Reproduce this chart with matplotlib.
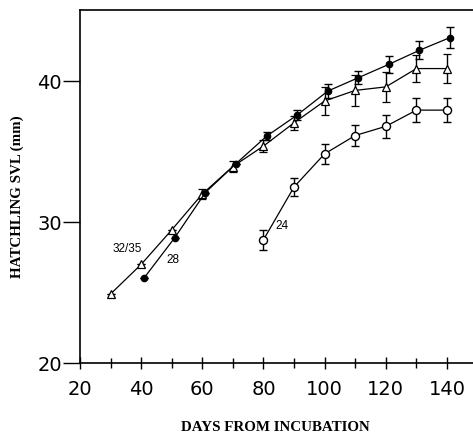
import matplotlib
matplotlib.use("Agg")
import matplotlib.pyplot as plt

# Data
days_tri = [30, 40, 50, 60, 70, 80, 90, 100, 110, 120, 130, 140]
svl_tri = [24.9, 27.0, 29.45, 32.0, 33.95, 35.4, 37.05, 38.6, 39.35, 39.6, 40.9, 40.9]
err_tri = [0, 0, 0, 0.35, 0.4, 0.4, 0.5, 1.0, 1.1, 1.05, 0.95, 1.0]

days_fill = [41, 51, 61, 71, 81, 91, 101, 111, 121, 131, 141]
svl_fill = [26.05, 28.9, 32.1, 34.15, 36.1, 37.6, 39.3, 40.25, 41.2, 42.2, 43.1]
err_fill = [0, 0, 0, 0, 0.3, 0.35, 0.5, 0.47, 0.6, 0.65, 0.72]

days_open = [80, 90, 100, 110, 120, 130, 140]
svl_open = [28.75, 32.5, 34.85, 36.15, 36.8, 37.95, 37.95]
err_open = [0.72, 0.65, 0.7, 0.73, 0.8, 0.83, 0.86]

labels = ["32/35", "28", "24"]

fig = plt.figure(figsize=(4.73, 4.38), dpi=100)
ax = fig.add_axes([0.169, 0.171, 0.831, 0.806])

kw = dict(color="black", ecolor="black", elinewidth=1.0, capsize=3, capthick=1.0, lw=0.9)
ax.errorbar(days_tri, svl_tri, yerr=err_tri, marker="^", ms=5.5, mfc="white", mec="black", mew=0.9, zorder=3, **kw)
ax.errorbar(days_fill, svl_fill, yerr=err_fill, marker="o", ms=4.5, mfc="black", mec="black", zorder=4, **kw)
ax.errorbar(days_open, svl_open, yerr=err_open, marker="o", ms=5.8, mfc="white", mec="black", mew=1.0, zorder=3, **kw)

ax.text(30.8, 28.1, labels[0], fontsize=8.5, family="Liberation Sans", ha="left", va="center")
ax.text(48.4, 27.3, labels[1], fontsize=8.5, family="Liberation Sans", ha="left", va="center")
ax.text(84, 29.7, labels[2], fontsize=8.5, family="Liberation Sans", ha="left", va="center")

ax.set_xlim(20, 148.5)
ax.set_ylim(20, 45.05)
ax.set_xticks(range(20, 141, 20))
ax.set_xticks(range(30, 141, 20), minor=True)
ax.set_yticks([20, 30, 40])
ax.tick_params(axis="x", which="major", direction="inout", length=9, width=1.0, labelsize=14, pad=8)
ax.tick_params(axis="x", which="minor", direction="inout", length=7, width=1.0)
ax.tick_params(axis="y", which="major", direction="out", length=12, width=1.0, labelsize=14, pad=1)
for lab in ax.get_xticklabels() + ax.get_yticklabels():
    lab.set_family("DejaVu Sans")

ax.spines["right"].set_visible(False)
for s in ["left", "bottom", "top"]:
    ax.spines[s].set_linewidth(1.2)

ax.set_xlabel("DAYS FROM INCUBATION", family="Liberation Serif", fontweight="bold", fontsize=10.8)
ax.set_ylabel("HATCHLING SVL (mm)", family="Liberation Serif", fontweight="bold", fontsize=10.8)
ax.xaxis.set_label_coords(0.498, -0.163)
ax.yaxis.set_label_coords(-0.142, 0.47)

fig.savefig("out.png", dpi=100)
